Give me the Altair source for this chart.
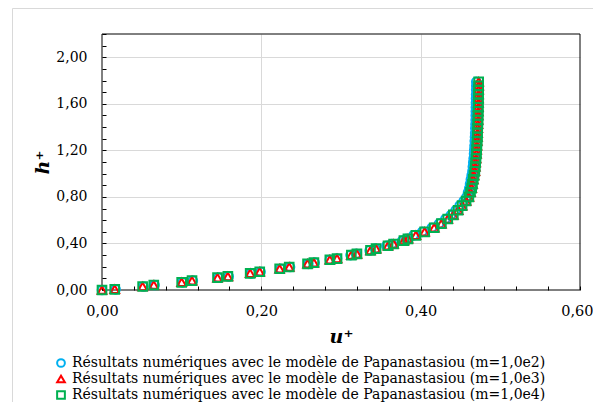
import altair as alt
import pandas as pd

# ---- data ----
h_plus = [0, 0.006, 0.03, 0.043, 0.066, 0.08, 0.106, 0.117, 0.143, 0.157, 0.183, 0.198,
          0.225, 0.235, 0.26, 0.27, 0.30, 0.31, 0.34, 0.355, 0.38, 0.395, 0.425, 0.44,
          0.47, 0.50, 0.535, 0.57, 0.61, 0.645, 0.685, 0.725, 0.765, 0.80, 0.84, 0.875,
          0.91, 0.95, 0.985, 1.02, 1.06, 1.095, 1.13, 1.17, 1.205, 1.24, 1.28, 1.315,
          1.35, 1.39, 1.425, 1.46, 1.50, 1.535, 1.57, 1.61, 1.645, 1.68, 1.72, 1.755, 1.79]

u_m1e4 = [0, 0.016, 0.051, 0.065, 0.100, 0.113, 0.145, 0.158, 0.186, 0.198, 0.223, 0.235,
          0.258, 0.266, 0.286, 0.295, 0.313, 0.320, 0.337, 0.344, 0.359, 0.366, 0.379, 0.384,
          0.394, 0.405, 0.417, 0.426, 0.434, 0.441, 0.447, 0.452, 0.457, 0.4605, 0.4625, 0.464,
          0.465, 0.466, 0.467, 0.468, 0.4685, 0.469, 0.4695, 0.470, 0.4703, 0.4706, 0.4709, 0.4712,
          0.4714, 0.4716, 0.4718, 0.472, 0.4721, 0.4722, 0.4723, 0.4724, 0.4725, 0.4726, 0.4727, 0.4728, 0.4728]

u_m1e3 = list(u_m1e4)

u_m1e2 = [0, 0.017, 0.052, 0.066, 0.101, 0.114, 0.146, 0.159, 0.187, 0.199, 0.224, 0.236,
          0.259, 0.267, 0.286, 0.295, 0.312, 0.319, 0.336, 0.343, 0.357, 0.364, 0.377, 0.382,
          0.391, 0.402, 0.414, 0.423, 0.431, 0.438, 0.444, 0.449, 0.454, 0.4575, 0.4595, 0.461,
          0.462, 0.463, 0.464, 0.465, 0.4655, 0.466, 0.4665, 0.467, 0.4673, 0.4676, 0.4679, 0.4682,
          0.4684, 0.4686, 0.4688, 0.469, 0.4691, 0.4692, 0.4693, 0.4694, 0.4695, 0.4696, 0.4697, 0.4698, 0.4698]

series_names = [
    "Résultats numériques avec le modèle de Papanastasiou (m=1,0e2)",
    "Résultats numériques avec le modèle de Papanastasiou (m=1,0e3)",
    "Résultats numériques avec le modèle de Papanastasiou (m=1,0e4)",
]
series_colors = ["#00B0F0", "#FF0000", "#00B050"]
series_shapes = ["circle", "triangle-up", "square"]

x_major = [0, 0.2, 0.4, 0.6]
y_major = [0, 0.4, 0.8, 1.2, 1.6, 2.0]
x_grid = [0.2, 0.4]
y_grid = [0.4, 0.8, 1.2, 1.6, 2.0]
x_minor = [0, 0.04, 0.08, 0.12, 0.16, 0.2, 0.24, 0.28, 0.32, 0.36, 0.4, 0.44, 0.48, 0.52, 0.56, 0.6]
y_minor = [0, 0.1, 0.2, 0.3, 0.4, 0.5, 0.6, 0.7, 0.8, 0.9, 1.0, 1.1, 1.2, 1.3, 1.4, 1.5,
           1.6, 1.7, 1.8, 1.9, 2.0, 2.1, 2.2]

rows = []
for name, us in zip(series_names, [u_m1e2, u_m1e3, u_m1e4]):
    for u, h in zip(us, h_plus):
        rows.append({"u": u, "h": h, "serie": name})
df = pd.DataFrame(rows)

W, H = 478, 256
SERIF = "DejaVu Serif"
fmt = "replace(format(datum.value, '.2f'), '.', ',')"

xscale = alt.Scale(domain=[0, 0.6], nice=False, zero=False)
yscale = alt.Scale(domain=[0, 2.2], nice=False, zero=False)

last_x = "datum.value >= 0.59"

# main layer: points, labels and titles
points = alt.Chart(df).mark_point(filled=False, strokeWidth=2, size=75, opacity=1).encode(
    x=alt.X("u:Q", scale=xscale, axis=alt.Axis(
        orient="bottom", values=x_major, labelExpr=fmt, grid=False, labelFlush=False,
        labelAlign={"condition": {"test": last_x, "value": "right"}, "value": "center"},
        labelOffset={"condition": {"test": last_x, "value": 13}, "value": 0},
        ticks=False, domain=False, labelFont=SERIF, labelFontSize=14.5, labelColor="black",
        labelPadding=14, title="u⁺", titleFont=SERIF, titleFontSize=19,
        titleFontStyle="italic", titleFontWeight="bold", titleColor="black", titlePadding=10)),
    y=alt.Y("h:Q", scale=yscale, axis=alt.Axis(
        orient="left", values=y_major, labelExpr=fmt, grid=False, labelFlush=False,
        ticks=False, domain=False, labelFont=SERIF, labelFontSize=14, labelColor="black",
        labelPadding=15, title="h⁺", titleFont=SERIF, titleFontSize=19,
        titleFontStyle="italic", titleFontWeight="bold", titleColor="black", titlePadding=3)),
    color=alt.Color("serie:N", scale=alt.Scale(domain=series_names, range=series_colors),
                    legend=alt.Legend(orient="none", legendX=-48, legendY=322, title=None,
                                      labelFont=SERIF, labelFontSize=14, labelColor="black",
                                      labelLimit=700, symbolSize=60, symbolStrokeWidth=2,
                                      rowPadding=0, labelOffset=4)),
    shape=alt.Shape("serie:N", scale=alt.Scale(domain=series_names, range=series_shapes)),
    order=alt.Order("idx:Q"),
).transform_window(idx="row_number()")

# helper layer: inside ticks
ticks = alt.Chart(df).mark_point(opacity=0).encode(
    x=alt.X("u:Q", scale=xscale, axis=alt.Axis(
        orient="top", offset=-H, values=x_minor, labels=False, ticks=True, tickSize=4,
        tickColor="black", domain=False, grid=False, title=None)),
    y=alt.Y("h:Q", scale=yscale, axis=alt.Axis(
        orient="right", offset=-W, values=y_minor, labels=False, ticks=True, tickSize=4,
        tickColor="black", domain=False, grid=False, title=None)),
)

# helper layer: inner grid lines
gridl = alt.Chart(df).mark_point(opacity=0).encode(
    x=alt.X("u:Q", scale=xscale, axis=alt.Axis(
        orient="bottom", values=x_grid, labels=False, ticks=False, domain=False,
        grid=True, gridColor="#d9d9d9", title=None)),
    y=alt.Y("h:Q", scale=yscale, axis=alt.Axis(
        orient="left", values=y_grid, labels=False, ticks=False, domain=False,
        grid=True, gridColor="#d9d9d9", title=None)),
)

frame = alt.Chart(pd.DataFrame({"a": [0]})).mark_rect(
    fill="transparent", stroke="#d9d9d9", strokeWidth=1
).encode(x=alt.value(-89.5), x2=alt.value(640), y=alt.value(-25.5), y2=alt.value(500))

border = alt.Chart(pd.DataFrame({"a": [0]})).mark_rect(
    fill="transparent", stroke="black", strokeWidth=1
).encode(x=alt.value(0), x2=alt.value(W), y=alt.value(0), y2=alt.value(H))

chart = alt.layer(frame, gridl, border, points, ticks).resolve_axis(
    x="independent", y="independent"
).properties(
    width=W, height=H,
    autosize=alt.AutoSizeParams(type="none"),
    padding={"left": 94, "top": 26, "right": 13, "bottom": 112},
    background="white",
).configure_view(stroke=None)

chart.save("out.html", embed_options={"renderer": "svg", "actions": False})
